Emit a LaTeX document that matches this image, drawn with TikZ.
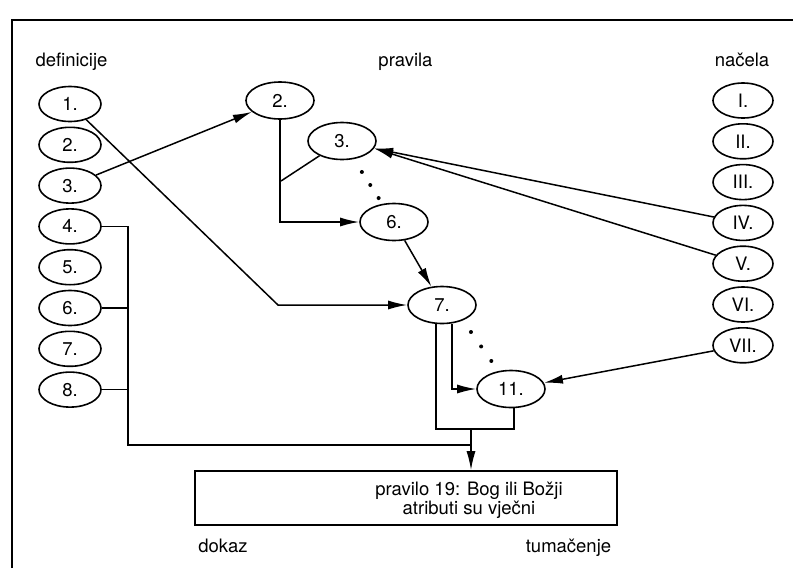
\documentclass[tikz,border=0pt]{standalone}
\usepackage{fontspec}
\setmainfont{TeX Gyre Heros}
\usepackage{tikz}
\usetikzlibrary{shapes.geometric, arrows.meta, positioning}
\tikzstyle{defn} = [ellipse, minimum width=62pt, minimum height=35pt, inner sep=0pt, text centered, draw=black, line width=1.6pt]
\tikzstyle{nacelo} = [defn, minimum width=60pt]
\tikzstyle{pravilo} = [ellipse, minimum width=68pt, minimum height=37pt, inner sep=0pt, text centered, draw=black, line width=1.6pt]
\tikzstyle{rulebox} = [rectangle, minimum width=422pt, minimum height=54pt, draw=black, line width=1.6pt]
\tikzstyle{heading} = [anchor=base, inner sep=0pt]
\tikzstyle{link} = [line width=1.5pt]
\tikzstyle{arrow} = [line width=1.5pt,->,>={Latex[length=19pt,width=9pt]}]
\tikzstyle{dotline} = [line width=4pt, line cap=round]

\begin{document}
\begin{tikzpicture}[x=1pt, y=-1pt, node distance=40.8pt, font=\fontsize{18.5}{16.5}\selectfont]
			\useasboundingbox (0,0) rectangle (793,568);
			\draw [line width=2pt] (12,568) -- (12,20) -- (793,20);
			
			\node (hdef) [heading] at (71.5,66) {definicije};
			\node (hprav) [heading] at (405.5,66) {pravila};
			\node (hnac) [heading] at (742,66) {načela};
			
			% definicije
			\node (d1) [defn] at (70,104) {1.};
			\node (d2) [defn, below of=d1] {2.};
			\node (d3) [defn, below of=d2] {3.};
			\node (d4) [defn, below of=d3] {4.};
			\node (d5) [defn, below of=d4] {5.};
			\node (d6) [defn, below of=d5] {6.};
			\node (d7) [defn, below of=d6] {7.};
			\node (d8) [defn, below of=d7] {8.};
			
			% načela
			\node (n1) [nacelo] at (743,100.5) {I.};
			\node (n2) [nacelo, below of=n1] {II.};
			\node (n3) [nacelo, below of=n2] {III.};
			\node (n4) [nacelo, below of=n3] {IV.};
			\node (n5) [nacelo, below of=n4] {V.};
			\node (n6) [nacelo, below of=n5] {VI.};
			\node (n7) [nacelo, below of=n6] {VII.};
			
			% pravila
			\node (p2) [pravilo] at (280,100.5) {2.};
			\node (p3) [pravilo] at (342,141) {3.};
			\node (p6) [pravilo] at (394,222) {6.};
			\node (p7) [pravilo] at (442,305) {7.};
			\node (p11) [pravilo] at (511,389) {11.};
			
			\node (rule) [rulebox] at (406,498) {};
			\node (ruletext) [align=center] at (469,500) {pravilo 19: Bog ili Božji\\atributi su vječni};
			
			\node (dokaz) [heading] at (223,552) {dokaz};
			\node (tumac) [heading] at (568.5,552) {tumačenje};
			
			\coordinate (bend1) at (278,305);
			\coordinate (j3) at (281,181);
			\coordinate (join) at (471,429);
			\coordinate (bus) at (128,445);
			
			\draw [arrow] (d3) -- (p2);
			\draw [arrow] (d1) -- (bend1) -- (p7);
			\draw [arrow] (p2) |- (p6);
			\draw [link] (p3) -- (j3);
			\draw [dotline, dash pattern=on 0pt off 15.5pt, shorten <=36.8pt, shorten >=27pt] (p3.center) -- (p6.center);
			\draw [arrow] (p6) -- (p7);
			\draw [arrow] (n4) -- (p3.-13);
			\draw [arrow] (n5) -- (p3.-13);
			\draw [arrow] (n7) -- (p11);
			\draw [arrow] ([xshift=10pt]p7.south) |- (p11);
			\draw [dotline, dash pattern=on 0pt off 17.7pt, shorten <=33pt, shorten >=33pt] ([xshift=10pt]p7.center) -- (p11.center);
			\draw [link] ([xshift=-6pt]p7.south) |- (join) -| ([xshift=3pt]p11.south);
			\draw [arrow] (join) -- (join |- rule.north);
			\draw [link] (d4) -| (bus) -- (bus -| join);
			\draw [link] (d6) -- (d6 -| bus);
			\draw [link] (d8) -- (d8 -| bus);
			
		\end{tikzpicture}
\end{document}
